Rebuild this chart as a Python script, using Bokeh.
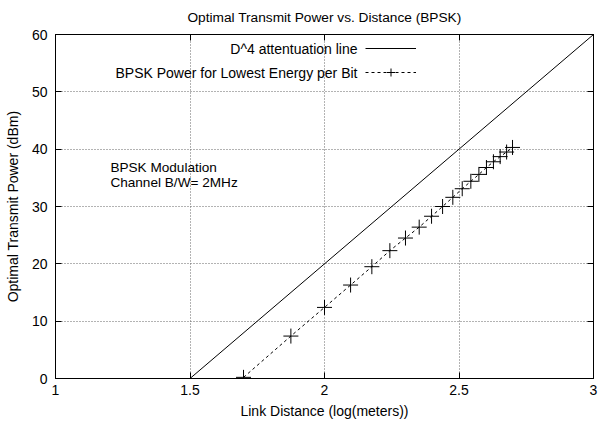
from bokeh.plotting import figure
from bokeh.models import (Legend, LegendItem, Label, FixedTicker, LinearAxis, Range1d,
                          CustomLabelingPolicy)
from bokeh.embed import file_html
from bokeh.resources import INLINE

# ---- data ----
link_distance_log = [1.699, 1.875, 2.0, 2.097, 2.176, 2.243, 2.301, 2.352, 2.398, 2.439,
                     2.477, 2.512, 2.544, 2.574, 2.602, 2.628, 2.653, 2.677, 2.699]
bpsk_power_dbm = [0.2, 7.4, 12.4, 16.3, 19.5, 22.3, 24.5, 26.4, 28.3, 30.0,
                  31.6, 33.1, 34.4, 35.6, 36.8, 37.8, 38.7, 39.5, 40.3]
d4_x = [1.5, 3.0]
d4_y = [0.0, 60.0]
x_ticks = [1, 1.5, 2, 2.5, 3]
y_ticks = [0, 10, 20, 30, 40, 50, 60]

FONT = "Liberation Sans"
FS = "14px"

p = figure(width=598, height=421, output_backend="svg", toolbar_location=None,
           x_range=Range1d(1, 3), y_range=Range1d(0, 60),
           title="Optimal Transmit Power vs. Distance (BPSK)",
           min_border_left=55, min_border_right=5, min_border_top=34, min_border_bottom=43)

p.title.align = "center"
p.title.vertical_align = "bottom"
p.title.text_font = FONT
p.title.text_font_size = "13.7px"
p.title.text_font_style = "normal"
p.title.text_color = "black"
p.title.standoff = 12

p.outline_line_color = "black"
p.outline_line_width = 1
p.outline_line_alpha = 1

for ax in (p.xaxis[0], p.yaxis[0]):
    ax.major_label_text_font = FONT
    ax.major_label_text_font_size = FS
    ax.major_label_text_color = "black"
    ax.axis_label_text_font = FONT
    ax.axis_label_text_font_size = FS
    ax.axis_label_text_font_style = "normal"
    ax.axis_label_text_color = "black"
    ax.axis_line_color = "black"
    ax.major_tick_in = 6
    ax.major_tick_out = 0
    ax.major_tick_line_color = "black"
    ax.minor_tick_line_color = None

p.xaxis[0].ticker = FixedTicker(ticks=x_ticks)
p.yaxis[0].ticker = FixedTicker(ticks=y_ticks)
p.xaxis[0].axis_label = "Link Distance (log(meters))"
p.yaxis[0].axis_label = "Optimal Transmit Power (dBm)"
p.xaxis[0].major_label_standoff = 6
p.xaxis[0].axis_label_standoff = 5
p.yaxis[0].major_label_standoff = 8
p.yaxis[0].axis_label_standoff = 8

# mirror ticks (no labels)
no_labels = "for (const i of indices) { if (i < 0) yield i }"
top_ax = LinearAxis(ticker=FixedTicker(ticks=x_ticks), major_label_text_font_size="1px",
                    major_label_policy=CustomLabelingPolicy(code=no_labels),
                    major_tick_in=6, major_tick_out=0, minor_tick_line_color=None,
                    axis_line_color="black", major_label_standoff=0, axis_label_standoff=0)
right_ax = LinearAxis(ticker=FixedTicker(ticks=y_ticks), major_label_text_font_size="1px",
                      major_label_policy=CustomLabelingPolicy(code=no_labels),
                      major_tick_in=6, major_tick_out=0, minor_tick_line_color=None,
                      axis_line_color="black", major_label_standoff=0, axis_label_standoff=0)
p.add_layout(top_ax, "above")
p.add_layout(right_ax, "right")

for g in (p.xgrid[0], p.ygrid[0]):
    g.grid_line_color = "#666666"
    g.grid_line_dash = "1 2"
    g.grid_line_width = 1
p.xgrid[0].ticker = FixedTicker(ticks=x_ticks)
p.ygrid[0].ticker = FixedTicker(ticks=y_ticks)

r_d4 = p.line(d4_x, d4_y, line_color="black", line_width=1)
r_bl = p.line(link_distance_log, bpsk_power_dbm, line_color="black", line_width=1, line_dash="3 3")
r_bm = p.scatter(link_distance_log, bpsk_power_dbm, marker="cross", size=15,
                 line_color="black", line_width=1)

# legend samples (glyphs only); their texts are placed to the left, gnuplot style
legend = Legend(items=[LegendItem(label=" ", renderers=[r_d4]),
                       LegendItem(label=" ", renderers=[r_bl, r_bm])],
                location=(310, 296), glyph_width=51, glyph_height=20, spacing=4,
                padding=0, margin=0, label_standoff=0,
                label_text_font=FONT, label_text_font_size="12px",
                border_line_color=None, background_fill_alpha=0)
p.add_layout(legend, "center")

p.add_layout(Label(x=2.1227, y=57.5, text="D^4 attentuation line", text_align="right",
                   text_baseline="middle", text_font=FONT, text_font_size=FS,
                   text_color="black"))
p.add_layout(Label(x=2.1227, y=53.3, text="BPSK Power for Lowest Energy per Bit",
                   text_align="right", text_baseline="middle", text_font=FONT,
                   text_font_size=FS, text_color="black"))
p.add_layout(Label(x=1.204, y=36.85, text="BPSK Modulation", text_align="left",
                   text_baseline="middle", text_font=FONT, text_font_size="13.6px",
                   text_color="black"))
p.add_layout(Label(x=1.204, y=34.24, text="Channel B/W= 2MHz", text_align="left",
                   text_baseline="middle", text_font=FONT, text_font_size="13.6px",
                   text_color="black"))

open("out.html", "w").write(file_html(p, INLINE))
